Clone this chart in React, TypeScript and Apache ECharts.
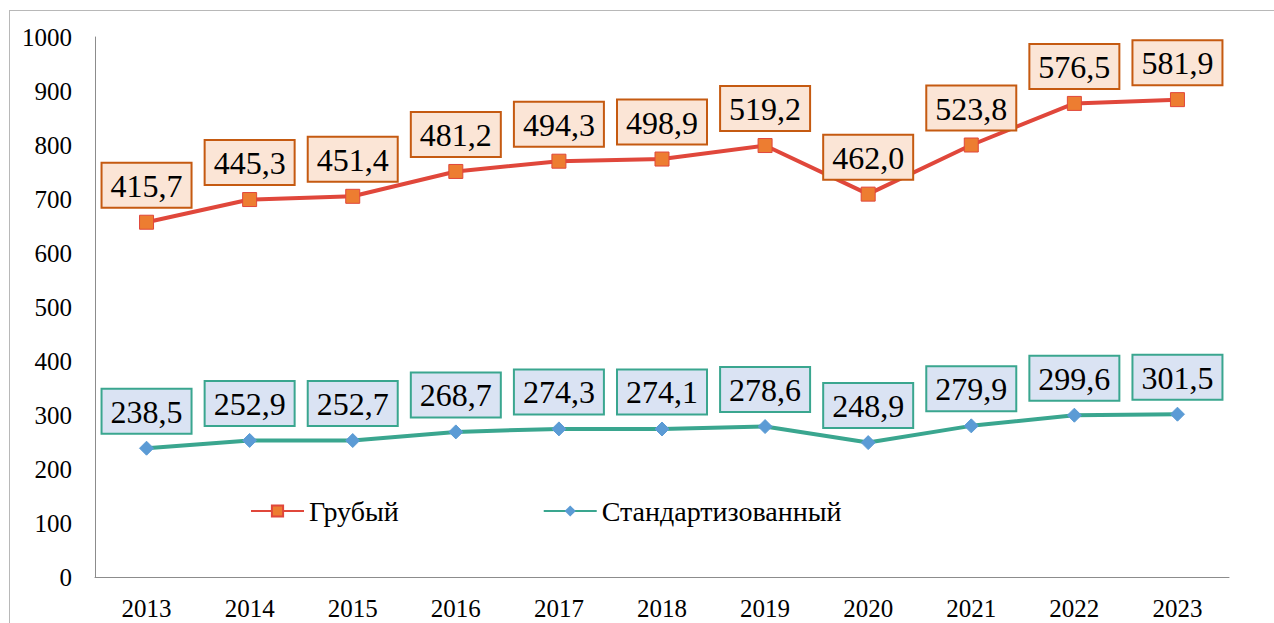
import React, { useEffect, useRef, useState } from "react";
import * as echarts from "echarts";

const years = ["2013", "2014", "2015", "2016", "2017", "2018", "2019", "2020", "2021", "2022", "2023"];
// Plotted positions of the "Грубый" line
const crudePlotted = [657, 699, 705, 751, 770, 774, 799, 709, 800, 877, 884];
// Labels shown on the "Грубый" line
const crudeLabels = [415.7, 445.3, 451.4, 481.2, 494.3, 498.9, 519.2, 462.0, 523.8, 576.5, 581.9];
const standardized = [238.5, 252.9, 252.7, 268.7, 274.3, 274.1, 278.6, 248.9, 279.9, 299.6, 301.5];
const yTicks = { min: 0, max: 1000, interval: 100 };

const FONT = "serif";
const fmt = (v: number) => v.toFixed(1).replace(".", ",");

function buildOption() {
  return {
    animation: false,
    textStyle: { fontFamily: FONT },
    grid: { left: 95, right: 45, top: 37, bottom: 46 },
    legend: {
      left: 245,
      top: 492,
      itemWidth: 53,
      itemHeight: 14,
      itemGap: 144,
      textStyle: { fontFamily: FONT, fontSize: 28, color: "#000" },
    },
    xAxis: {
      type: "category",
      data: years,
      axisLine: { lineStyle: { color: "#8c8c8c", width: 1 } },
      axisTick: { show: false },
      axisLabel: { fontFamily: FONT, fontSize: 25, color: "#000", margin: 19 },
    },
    yAxis: {
      type: "value",
      min: yTicks.min,
      max: yTicks.max,
      interval: yTicks.interval,
      axisLine: { show: true, lineStyle: { color: "#8c8c8c", width: 1 } },
      axisTick: { show: false },
      splitLine: { show: false },
      axisLabel: {
        fontFamily: FONT,
        fontSize: 25,
        color: "#000",
        margin: 23,
        formatter: (v: number) => String(v),
      },
    },
    series: [
      {
        name: "Грубый",
        type: "line",
        data: crudePlotted,
        symbol: "rect",
        symbolSize: 14,
        lineStyle: { color: "#e0473b", width: 4 },
        itemStyle: { color: "#ed7d31", borderColor: "#e0473b", borderWidth: 1 },
        label: {
          show: true,
          position: "top",
          distance: 8,
          formatter: (p: any) => fmt(crudeLabels[p.dataIndex]),
          fontFamily: FONT,
          fontSize: 32,
          color: "#000",
          backgroundColor: "#fbe5d6",
          borderColor: "#c55a11",
          borderWidth: 2,
          padding: [6, 8, 5, 8],
        },
      },
      {
        name: "Стандартизованный",
        type: "line",
        data: standardized,
        symbol: "diamond",
        symbolSize: 14,
        lineStyle: { color: "#3aa68f", width: 4 },
        itemStyle: { color: "#5b9bd5", borderColor: "#5b9bd5" },
        label: {
          show: true,
          position: "top",
          distance: 8,
          formatter: (p: any) => fmt(standardized[p.dataIndex]),
          fontFamily: FONT,
          fontSize: 32,
          color: "#000",
          backgroundColor: "#dae3f3",
          borderColor: "#3aa68f",
          borderWidth: 2,
          padding: [6, 8, 5, 8],
        },
      },
    ],
  };
}

export default function App() {
  const ref = useRef<HTMLDivElement>(null);
  const [tick, setTick] = useState(0);
  useEffect(() => {
    if (!ref.current) return;
    const chart = echarts.init(ref.current, undefined, { renderer: "svg" });
    chart.setOption(buildOption());
    let alive = true;
    const redraw = () => {
      if (!alive) return;
      chart.clear();
      chart.setOption(buildOption());
      setTick((t) => t + 1);
    };
    const t1 = setTimeout(redraw, 150);
    if ((document as any).fonts && (document as any).fonts.ready) {
      (document as any).fonts.ready.then(redraw);
    }
    return () => {
      alive = false;
      clearTimeout(t1);
      chart.dispose();
    };
  }, []);
  return (
    <>
      <style>{`.chart-root svg text { font-family: 'Liberation Serif', 'Times New Roman', serif !important; }`}</style>
      <div
        data-redraws={tick}
        style={{
          position: "fixed",
          left: 9,
          top: 10,
          width: 1400,
          height: 800,
          borderLeft: "1.5px solid #b8b8b8",
          borderTop: "1.5px solid #b8b8b8",
          background: "#ffffff",
        }}
      />
      <div
        ref={ref}
        className="chart-root"
        style={{ position: "fixed", left: 0, top: 0, width: 1274, height: 623 }}
      />
    </>
  );
}
